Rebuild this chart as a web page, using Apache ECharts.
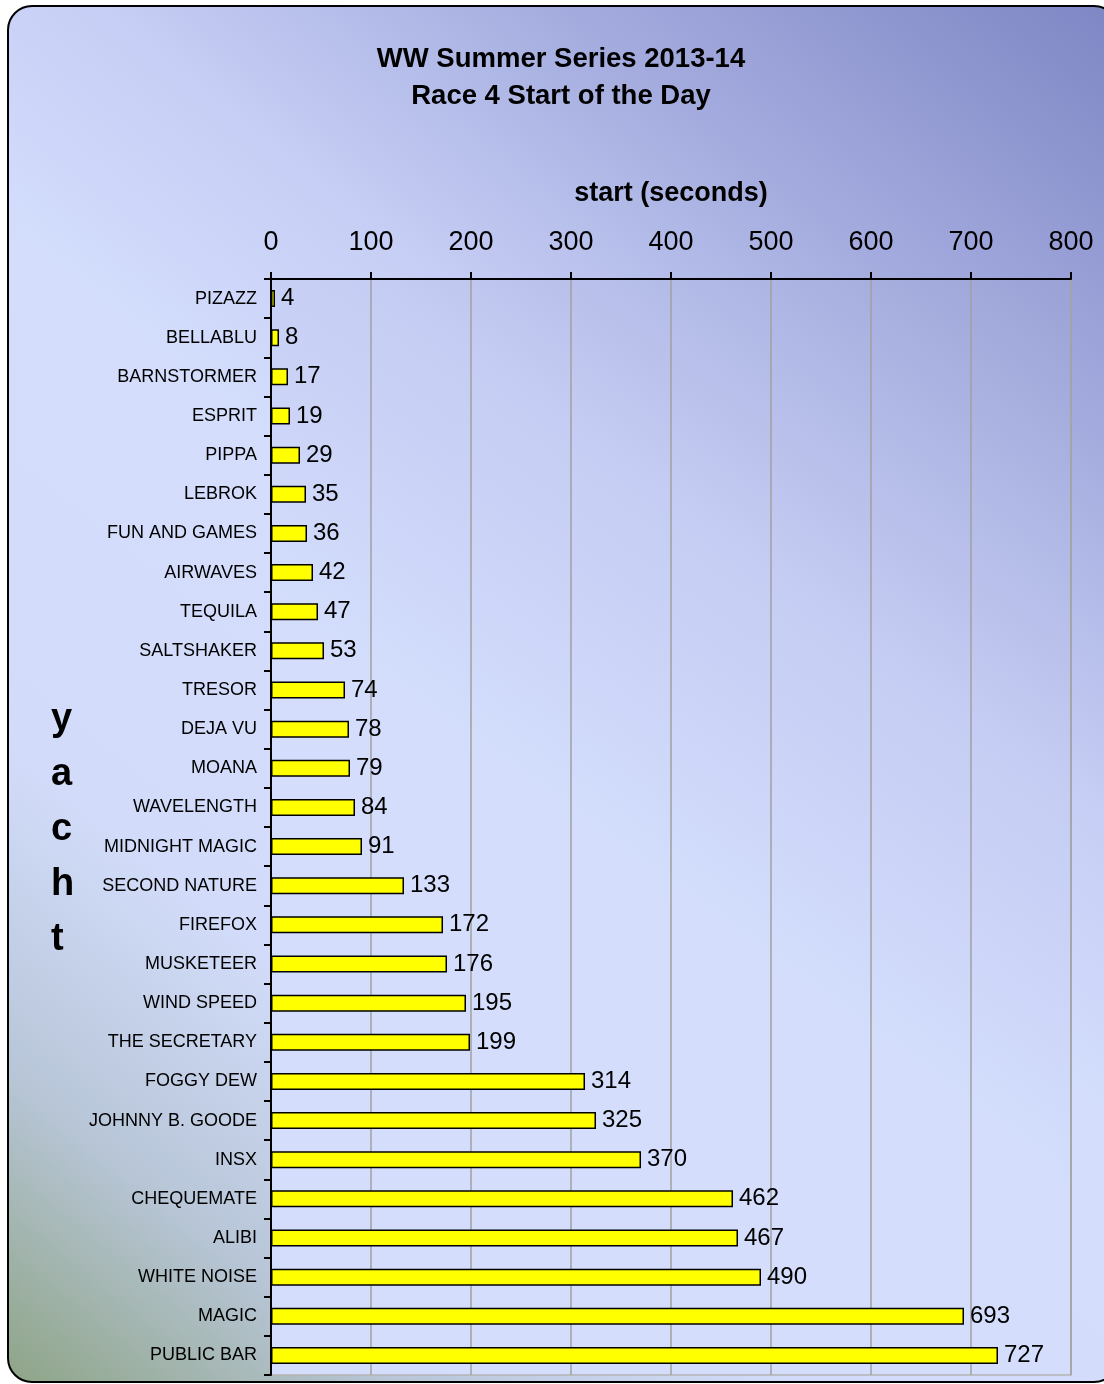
<!DOCTYPE html>
<html>
<head>
<meta charset="utf-8">
<script src="https://cdn.jsdelivr.net/npm/echarts@6/dist/echarts.min.js"></script>
<style>
html,body{margin:0;padding:0;background:#ffffff;}
#chart{width:1104px;height:1384px;}
</style>
</head>
<body>
<div id="chart"></div>
<script>
var titleLines = ['WW Summer Series 2013-14', 'Race 4 Start of the Day'];
var xAxisName = 'start (seconds)';
var yAxisName = 'yacht';
var yachts = ['PIZAZZ','BELLABLU','BARNSTORMER','ESPRIT','PIPPA','LEBROK','FUN AND GAMES','AIRWAVES','TEQUILA','SALTSHAKER','TRESOR','DEJA VU','MOANA','WAVELENGTH','MIDNIGHT MAGIC','SECOND NATURE','FIREFOX','MUSKETEER','WIND SPEED','THE SECRETARY','FOGGY DEW','JOHNNY B. GOODE','INSX','CHEQUEMATE','ALIBI','WHITE NOISE','MAGIC','PUBLIC BAR'];
var startSeconds = [4,8,17,19,29,35,36,42,47,53,74,78,79,84,91,133,172,176,195,199,314,325,370,462,467,490,693,727];
var xMin = 0, xMax = 800, xStep = 100;

var chart = echarts.init(document.getElementById('chart'), null, {renderer:'canvas'});
var FONT = '"Liberation Sans", Arial, sans-serif';

var option = {
  animation: false,
  backgroundColor: 'transparent',
  graphic: [
    {
      type: 'rect', z: -10, silent: true,
      shape: {x: 8, y: 6, width: 1110, height: 1376, r: 24},
      style: {
        fill: {
          type: 'linear', x: 1, y: 0, x2: 0, y2: 1,
          colorStops: [
            {offset: 0, color: '#7e86c4'},
            {offset: 0.18, color: '#a0a8dc'},
            {offset: 0.36, color: '#c6cef5'},
            {offset: 0.5, color: '#d4defc'},
            {offset: 0.72, color: '#d2dcfa'},
            {offset: 0.86, color: '#b8c6d8'},
            {offset: 1, color: '#8ea486'}
          ]
        },
        stroke: '#000000', lineWidth: 2
      }
    },
    {
      type: 'text', left: 51, top: 692, silent: true,
      style: {
        text: yAxisName.split('').join('\n'),
        font: 'bold 38px ' + FONT,
        lineHeight: 55,
        fill: '#000000',
        align: 'center'
      }
    }
  ],
  title: {
    text: titleLines.join('\n'),
    left: 556, top: 36,
    textAlign: 'center',
    textStyle: {fontFamily: FONT, fontWeight: 'bold', fontSize: 27.5, lineHeight: 37, color: '#000'}
  },
  grid: {
    left: 271, right: 33, top: 279, bottom: 9,
    show: true,
    borderColor: '#b4b4b4', borderWidth: 1.5,
    backgroundColor: {
      type: 'linear', x: 1, y: 0, x2: 0, y2: 1,
      colorStops: [
        {offset: 0, color: '#9aa2d6'},
        {offset: 0.3, color: '#c4ccf3'},
        {offset: 0.55, color: '#d4defc'},
        {offset: 1, color: '#d4defc'}
      ]
    }
  },
  xAxis: {
    type: 'value', position: 'top',
    min: xMin, max: xMax, interval: xStep,
    name: xAxisName, nameLocation: 'middle', nameGap: 72,
    nameTextStyle: {fontFamily: FONT, fontWeight: 'bold', fontSize: 27, color: '#000'},
    axisLine: {show: true, lineStyle: {color: '#000', width: 2}},
    axisTick: {show: true, length: 7, inside: false, lineStyle: {color: '#000', width: 2}},
    axisLabel: {fontFamily: FONT, fontSize: 27, color: '#000', margin: 23},
    splitLine: {show: true, lineStyle: {color: '#a0a0a0', width: 1.5}}
  },
  yAxis: {
    type: 'category', inverse: true, data: yachts,
    axisLine: {show: true, lineStyle: {color: '#000', width: 2}},
    axisTick: {show: true, length: 7, lineStyle: {color: '#000', width: 2}},
    axisLabel: {fontFamily: FONT, fontSize: 18, color: '#000', margin: 14, interval: 0}
  },
  series: [{
    type: 'bar',
    data: startSeconds,
    barWidth: 17,
    itemStyle: {color: '#ffff00', borderColor: '#000000', borderWidth: 1.5},
    label: {show: true, position: 'right', distance: 6, fontFamily: FONT, fontSize: 24, color: '#000'}
  }]
};
chart.setOption(option);
</script>
</body>
</html>
